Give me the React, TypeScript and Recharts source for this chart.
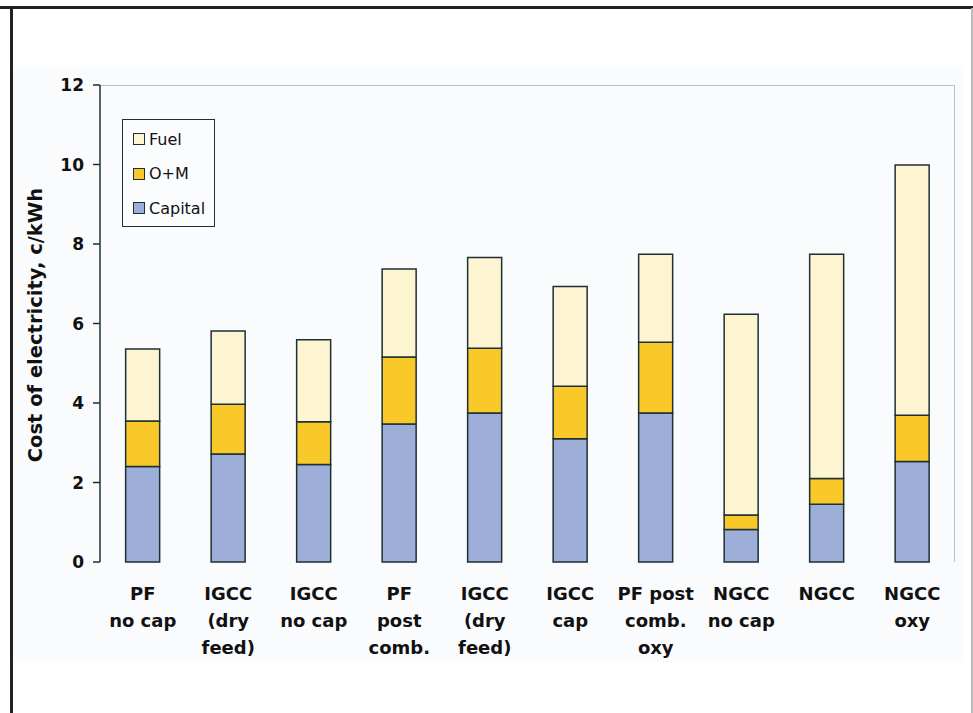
import { BarChart, Bar, XAxis, YAxis } from "recharts"

const categories = [
  "PF\nno cap",
  "IGCC\n(dry\nfeed)",
  "IGCC\nno cap",
  "PF\npost\ncomb.",
  "IGCC\n(dry\nfeed)",
  "IGCC\ncap",
  "PF post\ncomb.\noxy",
  "NGCC\nno cap",
  "NGCC",
  "NGCC\noxy",
]
const capital = [2.4, 2.72, 2.45, 3.47, 3.75, 3.1, 3.75, 0.82, 1.45, 2.53]
const oAndM = [1.15, 1.25, 1.08, 1.69, 1.63, 1.32, 1.78, 0.36, 0.65, 1.16]
const fuel = [1.81, 1.84, 2.06, 2.21, 2.28, 2.51, 2.21, 5.05, 5.64, 6.3]
const yTicks = [0, 2, 4, 6, 8, 10, 12]
const boundaryTicks = [0, 1, 2, 3, 4, 5, 6, 7, 8, 9, 10]

const data = categories.map((name, i) => ({
  name,
  capital: capital[i],
  om: oAndM[i],
  fuel: fuel[i],
}))

const FONT = "'DejaVu Sans', Verdana, sans-serif"
const STROKE = "#1d3134"
const colors = { capital: "#9dafd8", om: "#f9c92a", fuel: "#fdf5d2" }

const legendItems = [
  { label: "Fuel", color: colors.fuel },
  { label: "O+M", color: colors.om },
  { label: "Capital", color: colors.capital },
]

function CategoryTick(props: any) {
  const { x, y, payload } = props
  const lines = String(payload.value).split("\n")
  return (
    <text x={x} y={y} textAnchor="middle" fontFamily={FONT} fontWeight="bold" fontSize={18} fill="#111">
      {lines.map((l, i) => (
        <tspan key={i} x={x} dy={i === 0 ? 30 : 27}>
          {l}
        </tspan>
      ))}
    </text>
  )
}

// legend box sits inside the plot, top-left
function LegendBox() {
  return (
    <div
      style={{
        position: "absolute",
        left: 122,
        top: 119,
        width: 93,
        height: 108,
        border: "1.5px solid #1d3134",
        background: "#fbfcfe",
        boxSizing: "border-box",
        paddingTop: 2,
        fontFamily: FONT,
        fontSize: 16,
        color: "#111",
      }}
    >
      {legendItems.map((it) => (
        <div key={it.label} style={{ display: "flex", alignItems: "center", height: 34.5, paddingLeft: 10 }}>
          <span
            style={{
              display: "inline-block",
              width: 10,
              height: 10,
              background: it.color,
              border: "1.5px solid #1d3134",
              marginRight: 4,
            }}
          />
          {it.label}
        </div>
      ))}
    </div>
  )
}

export default function App() {
  return (
    <div style={{ position: "absolute", left: 0, top: 0, width: 973, height: 713, background: "#fff" }}>
      <div style={{ position: "absolute", left: 12, top: 65, width: 952, height: 598, background: "#fafbfd" }} />
      <div style={{ position: "absolute", left: 0, top: 6, width: 973, height: 3, background: "#222" }} />
      <div style={{ position: "absolute", left: 10, top: 6, width: 3, height: 707, background: "#222" }} />
      <div style={{ position: "absolute", left: 971, top: 8, width: 2, height: 705, background: "#bbb" }} />
      <div
        style={{
          position: "absolute",
          left: 100,
          top: 85,
          width: 855,
          height: 477,
          borderTop: "1.5px solid #b9c3c8",
          borderRight: "1.5px solid #b9c3c8",
          boxSizing: "border-box",
        }}
      />
      <div
        style={{
          position: "absolute",
          left: 35,
          top: 325,
          transform: "translate(-50%, -50%) rotate(-90deg)",
          whiteSpace: "nowrap",
          fontFamily: FONT,
          fontWeight: "bold",
          fontSize: 19.5,
          color: "#111",
        }}
      >
        Cost of electricity, c/kWh
      </div>
      <BarChart
        width={973}
        height={713}
        data={data}
        margin={{ top: 85, right: 18, bottom: 51, left: 0 }}
        barCategoryGap="30%"
        style={{ position: "absolute", left: 0, top: 0 }}
      >
        <XAxis
          xAxisId="edges"
          type="number"
          domain={[0, 10]}
          ticks={boundaryTicks}
          height={0}
          tickSize={7}
          tick={() => <g />}
          stroke={STROKE}
          strokeWidth={1.5}
          allowDataOverflow
        />
        <XAxis
          xAxisId="cat"
          dataKey="name"
          interval={0}
          height={100}
          axisLine={false}
          tickLine={false}
          tick={<CategoryTick />}
        />
        <YAxis
          domain={[0, 12]}
          ticks={yTicks}
          width={100}
          tickSize={7}
          tickMargin={9}
          stroke={STROKE}
          strokeWidth={1.5}
          tick={{ fontFamily: FONT, fontWeight: "bold", fontSize: 17, fill: "#111" }}
        />
        <Bar xAxisId="cat" dataKey="capital" stackId="a" fill={colors.capital} stroke={STROKE} strokeWidth={1.5} isAnimationActive={false} />
        <Bar xAxisId="cat" dataKey="om" stackId="a" fill={colors.om} stroke={STROKE} strokeWidth={1.5} isAnimationActive={false} />
        <Bar xAxisId="cat" dataKey="fuel" stackId="a" fill={colors.fuel} stroke={STROKE} strokeWidth={1.5} isAnimationActive={false} />
      </BarChart>
      <LegendBox />
    </div>
  )
}
